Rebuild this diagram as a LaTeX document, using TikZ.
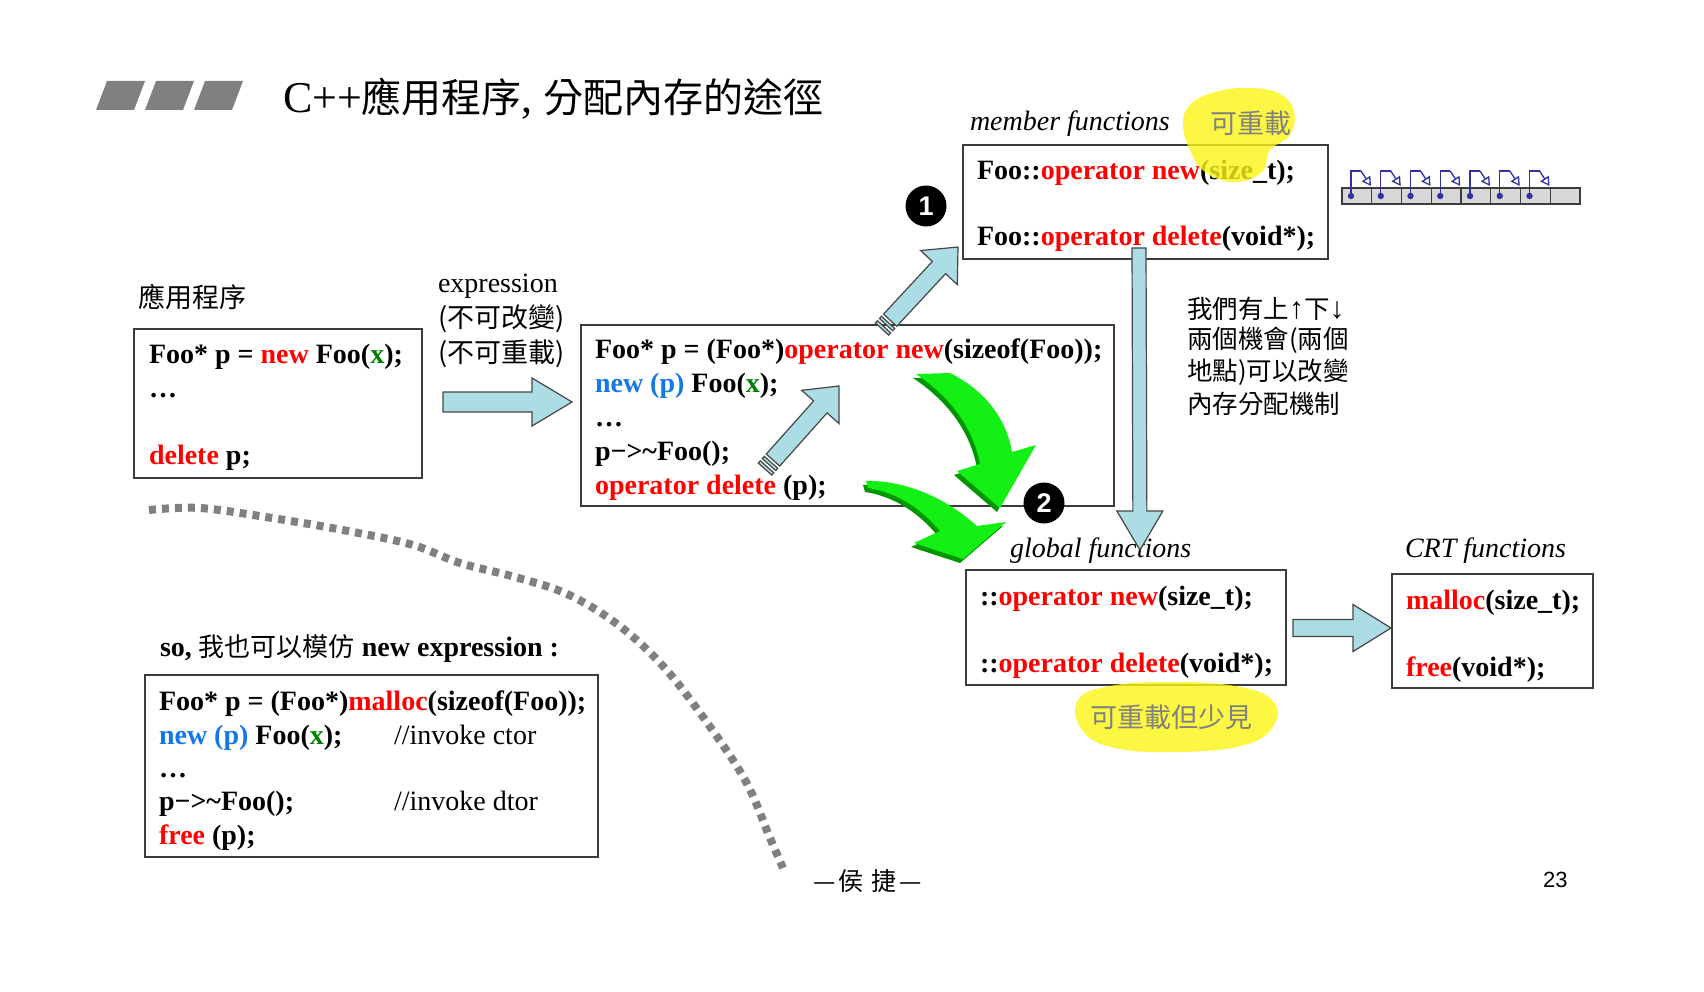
\documentclass[tikz,border=0pt]{standalone}
\usepackage{fontspec}
\setmainfont{Liberation Serif}
\newfontfamily\cjk{Noto Sans CJK TC}
\newfontfamily\sansf{Liberation Sans}
\usetikzlibrary{calc,arrows.meta}
\definecolor{cred}{RGB}{255,0,0}
\definecolor{cblue}{RGB}{20,120,230}
\definecolor{cgreen}{RGB}{0,128,0}
\definecolor{boxc}{RGB}{60,60,60}
\definecolor{arrowc}{RGB}{172,220,228}
\definecolor{arrowline}{RGB}{70,70,70}
\definecolor{grayc}{RGB}{128,128,128}
\definecolor{blobc}{RGB}{250,245,20}
\definecolor{gbright}{RGB}{20,240,20}
\definecolor{gdark}{RGB}{0,150,0}
\definecolor{navy}{RGB}{50,50,160}
\definecolor{cellc}{RGB}{215,215,215}
\newcommand\setfs[1]{\fontsize{#1}{#1}\selectfont}
\newcommand\R[1]{\textcolor{cred}{#1}}
\newcommand\B[1]{\textcolor{cblue}{#1}}
\newcommand\G[1]{\textcolor{cgreen}{#1}}
\newcommand\arrowsetup[2]{%
  \pgfpointdiff{\pgfpointanchor{#1}{center}}{\pgfpointanchor{#2}{center}}%
  \pgfgetlastxy{\ax}{\ay}%
  \pgfmathsetmacro\aang{atan2(\ay,\ax)}%
  \pgfmathsetmacro\alen{veclen(\ax,\ay)}}
\newcommand\blockarrow[4]{%
  \begin{scope}[shift={(#1)}, rotate=\aang]
    \draw[barrow] (0,-#2) -- ({\alen-#4},-#2) -- ({\alen-#4},-#3) -- (\alen,0) -- ({\alen-#4},#3) -- ({\alen-#4},#2) -- (0,#2) -- cycle;
  \end{scope}}
\newcommand\stripedarrow[4]{%
  \begin{scope}[shift={(#1)}, rotate=\aang]
    \draw[barrow] (0,-#2) rectangle (3,#2);
    \draw[barrow] (6,-#2) rectangle (9,#2);
    \draw[barrow] (12,-#2) -- ({\alen-#4},-#2) -- ({\alen-#4},-#3) -- (\alen,0) -- ({\alen-#4},#3) -- ({\alen-#4},#2) -- (12,#2) -- cycle;
  \end{scope}}
\newcommand\gonepath{(916,374) -- (950,373) .. controls (988,392) and (1007,422) .. (1012,452) -- (1036,445) -- (1000,508) -- (957,471) -- (980,464) .. controls (974,432) and (955,400) .. (916,374) -- cycle}
\newcommand\gtwopath{(866,481) .. controls (905,480) and (946,498) .. (977,526) -- (1006,522) -- (963,559) -- (914,543) -- (940,531) .. controls (920,507) and (895,492) .. (868,488) -- cycle}
\tikzset{
  box/.style={draw=boxc, line width=1.5pt, fill=white, rectangle, anchor=north west},
  code/.style={anchor=base west, font=\setfs{28}\bfseries},
  cmt/.style={anchor=base west, font=\setfs{28}},
  ital/.style={anchor=base west, font=\setfs{28}\itshape},
  cjkt/.style={anchor=west, font=\setfs{27}\cjk},
  note/.style={anchor=west, font=\setfs{25.5}\cjk},
  barrow/.style={fill=arrowc, draw=arrowline, line width=1.2pt, line join=miter},
  badge/.style={circle, fill=black, minimum size=41pt, text=white, font=\setfs{27}\sansf\bfseries},
  blob/.style={fill=blobc, draw=none, fill opacity=0.8},
  blobtext/.style={anchor=west, font=\setfs{27}\cjk, text=grayc},
  dotline/.style={draw=grayc, line width=8pt, dash pattern=on 7pt off 6pt, line cap=butt},
  hook/.style={draw=navy, line width=1.3pt},
  cell/.style={draw=boxc, fill=cellc, line width=1.2pt}
}
\begin{document}
\begin{tikzpicture}[x=1pt,y=-1pt, every node/.style={inner sep=0pt, outer sep=0pt}]
\useasboundingbox (0,0) rectangle (1704,992);
\fill[white] (0,0) rectangle (1704,992);

% title
\foreach \i in {0,1,2}{
  \fill[grayc] ({96+49*\i},110) -- ({107+49*\i},81) -- ({145+49*\i},81) -- ({134+49*\i},110) -- cycle;
}
\node[anchor=base west, font=\setfs{44}] (title) at (283,113) {C++{\cjk\setfs{40}應用程序}, {\cjk\setfs{40}分配內存的途徑}};

% dotted curve
\draw[dotline] plot[smooth, tension=0.6] coordinates {(149,510) (200,508) (272,518) (348,531) (413,545) (460,563) (515,577) (567,594) (617,624) (662,665) (703,717) (745,780) (770,838) (783,868)};

% box A
\node[cjkt] (lblA) at (138,297) {應用程序};
\node[box, minimum width=288pt, minimum height=149pt] (boxA) at (134,329) {};
\node[code] (a1) at (149,363) {Foo* p = \R{new} Foo(\G{x});};
\node[code] (a2) at (149,397) {…};
\node[code] (a3) at (149,464) {\R{delete} p;};

% expression label
\node[anchor=base west, font=\setfs{28}] (ex1) at (438,292) {expression};
\node[cjkt] (ex2) at (438,319) {(不可改變)};
\node[cjkt] (ex3) at (438,354) {(不可重載)};

% box B
\node[box, minimum width=533pt, minimum height=181pt] (boxB) at (581,325) {};
\node[code] (b1l) at (595,358) {Foo* p = (Foo*)\R{operator new}(sizeof(Foo));};
\node[code] (b2l) at (595,392) {\B{new (p)} Foo(\G{x});};
\node[code] (b3l) at (595,426) {…};
\node[code] (b4l) at (595,460) {p−>\textasciitilde Foo();};
\node[code] (b5l) at (595,494) {\R{operator delete} (p);};

% box M
\node[ital] (lblM) at (970,131) {member functions};
\node[box, minimum width=365pt, minimum height=114pt] (boxM) at (963,145) {};
\node[code] (m1) at (977,180) {Foo::\R{operator new}(size\_t);};
\node[code] (m2) at (977,246) {Foo::\R{operator delete}(void*);};
\draw[blob] plot[smooth cycle, tension=0.7] coordinates {(1190,105) (1215,92) (1250,88) (1280,94) (1294,112) (1290,135) (1270,150) (1262,172) (1235,182) (1205,172) (1190,150) (1183,125)};
\node[blobtext] (bt1) at (1210,123) {可重載};

% memory cells
\foreach \i in {0,...,7}{
  \draw[cell] ({1342+29.75*\i},188) rectangle ++(29.75,16);
}
\foreach \i in {0,...,6}{
  \draw[hook] ({1351+29.75*\i},196) -- ++(0,-25) -- ++(10,0);
  \draw[hook, -{Triangle[open, length=9pt, width=10pt]}] ({1361+29.75*\i},171) -- ({1371+29.75*\i},186);
  \fill[navy] ({1351+29.75*\i},196) circle (3.2);
}

% side note
\node[note] (n1) at (1187,309) {我們有上{\sansf\setfs{30}↑}下{\sansf\setfs{30}↓}};
\node[note] (n2) at (1187,340.5) {兩個機會(兩個};
\node[note] (n3) at (1187,372) {地點)可以改變};
\node[note] (n4) at (1187,403.5) {內存分配機制};

% global box
\node[ital] (lblG) at (1010,557) {global functions};
\node[box, minimum width=320pt, minimum height=115pt] (boxG) at (966,570) {};
\node[code] (g1) at (980,605) {::\R{operator new}(size\_t);};
\node[code] (g2) at (980,672) {::\R{operator delete}(void*);};
\draw[blob] plot[smooth cycle, tension=0.7] coordinates {(1078,700) (1110,686) (1170,682) (1235,686) (1272,700) (1274,725) (1245,745) (1180,752) (1115,748) (1082,730)};
\node[blobtext] (bt2) at (1090,717) {可重載但少見};

% CRT box
\node[ital] (lblC) at (1405,557) {CRT functions};
\node[box, minimum width=201pt, minimum height=114pt] (boxR) at (1392,574) {};
\node[code] (r1) at (1406,609) {\R{malloc}(size\_t);};
\node[code] (r2) at (1406,676) {\R{free}(void*);};

% box C
\node[anchor=base west, font=\setfs{28}\bfseries] (so) at (160,656) {so, {\mdseries\cjk\setfs{26}我也可以模仿} new expression :};
\node[box, minimum width=453pt, minimum height=182pt] (boxC) at (145,675) {};
\node[code] (c1) at (159,710) {Foo* p = (Foo*)\R{malloc}(sizeof(Foo));};
\node[code] (c2) at (159,744) {\B{new (p)} Foo(\G{x});};
\node[cmt] (c2c) at (394,744) {//invoke ctor};
\node[code] (c3) at (159,777) {…};
\node[code] (c4) at (159,810) {p−>\textasciitilde Foo();};
\node[cmt] (c4c) at (394,810) {//invoke dtor};
\node[code] (c5) at (159,844) {\R{free} (p);};

% block arrows
\coordinate (hA) at (443,402); \coordinate (hB) at (572,402);
\arrowsetup{hA}{hB}\blockarrow{hA}{10}{24}{40}
\coordinate (gA) at (1293,628); \coordinate (gB) at (1391,628);
\arrowsetup{gA}{gB}\blockarrow{gA}{8.5}{23.5}{38}
\coordinate (vA) at (1139,248); \coordinate (vB) at (1140,550);
\arrowsetup{vA}{vB}\blockarrow{vA}{7}{23}{39}
\coordinate (d1A) at (882,329); \coordinate (d1B) at (958,247);
\arrowsetup{d1A}{d1B}\stripedarrow{d1A}{9}{25}{28}
\coordinate (d2A) at (765,469); \coordinate (d2B) at (839,386);
\arrowsetup{d2A}{d2B}\stripedarrow{d2A}{9}{25}{28}

% green arrows
\begin{scope}[shift={(-3,4)}]
  \fill[gdark] \gonepath;
  \fill[gdark] \gtwopath;
\end{scope}
\fill[gbright] \gonepath;
\fill[gbright] \gtwopath;

% badges
\node[badge] (badge1) at (926,206) {1};
\node[badge] (badge2) at (1044,503) {2};

% footer
\node[anchor=west, font=\setfs{25}\cjk] (foot) at (813,881) {—\hspace{3pt}侯\hspace{8pt}捷\hspace{3pt}—};
\node[anchor=west, font=\setfs{22}\sansf] (pg) at (1543,880) {23};
\end{tikzpicture}
\end{document}
